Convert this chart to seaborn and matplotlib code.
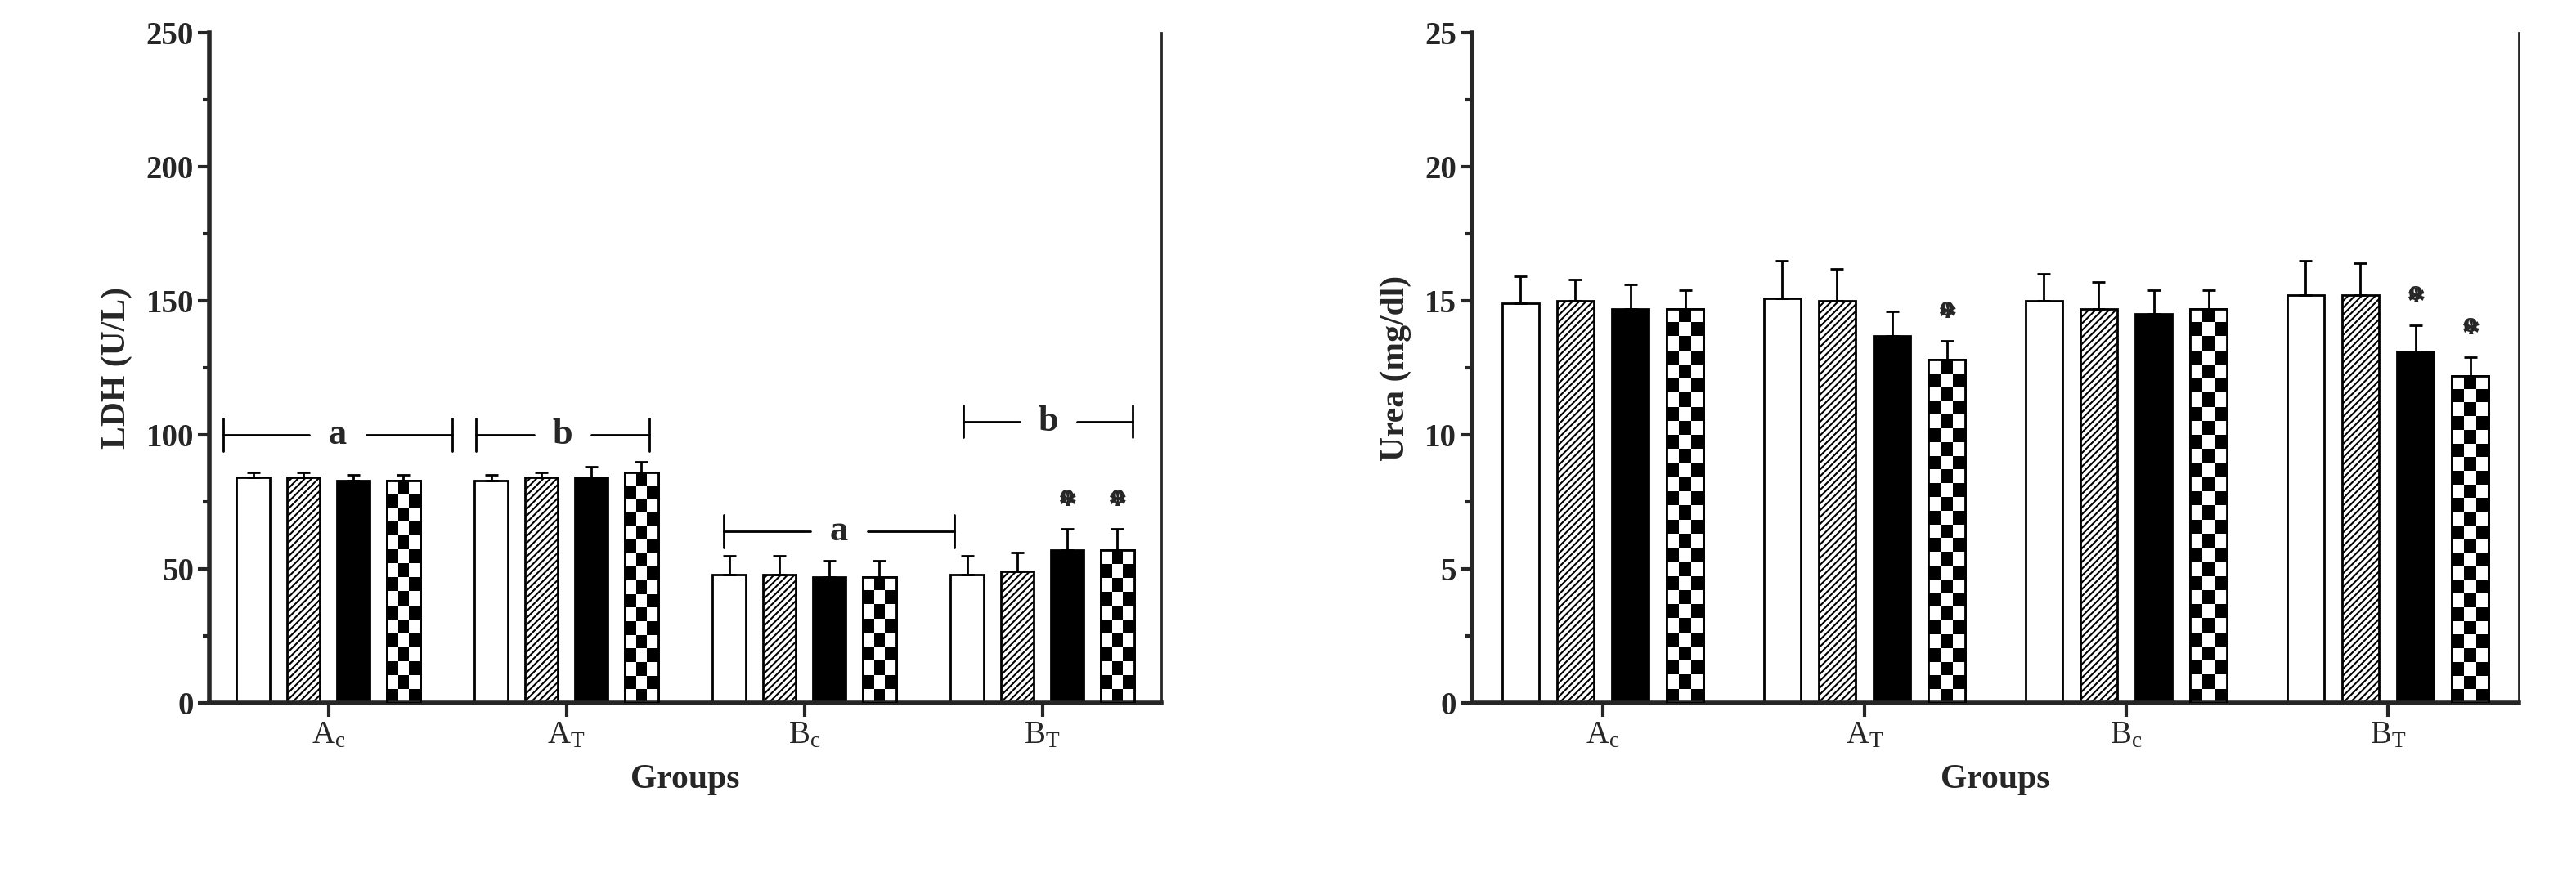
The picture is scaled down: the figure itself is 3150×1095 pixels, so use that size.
import numpy as np
import pandas as pd
import seaborn as sns
import matplotlib.pyplot as plt
from matplotlib.container import BarContainer

groups = ['Ac', 'AT', 'Bc', 'BT']
group_labels = [r'$\mathregular{A_c}$', r'$\mathregular{A_T}$', r'$\mathregular{B_c}$', r'$\mathregular{B_T}$']
series = ['s1', 's2', 's3', 's4']

ldh = [[84, 84, 83, 83], [83, 84, 84, 86], [48, 48, 47, 47], [48, 49, 57, 57]]
ldh_err = [[2, 2, 2, 2], [2, 2, 4, 4], [7, 7, 6, 6], [7, 7, 8, 8]]
urea = [[14.9, 15.0, 14.7, 14.7], [15.1, 15.0, 13.7, 12.8], [15.0, 14.7, 14.5, 14.7], [15.2, 15.2, 13.1, 12.2]]
urea_err = [[1.0, 0.8, 0.9, 0.7], [1.4, 1.2, 0.9, 0.7], [1.0, 1.0, 0.9, 0.7], [1.3, 1.2, 1.0, 0.7]]

sns.set_theme(style='white')
plt.rcParams['font.family'] = ['Liberation Serif', 'DejaVu Serif']
plt.rcParams['mathtext.fontset'] = 'custom'
plt.rcParams['mathtext.rm'] = 'Liberation Serif'
plt.rcParams['hatch.linewidth'] = 1.5

def long_df(vals):
  rows = []
  for i, g in enumerate(groups):
    for j, s in enumerate(series):
      rows.append({'group': g, 'series': s, 'value': vals[i][j]})
  return pd.DataFrame(rows)

checker = np.indices((60, 3)).sum(axis=0) % 2

def draw(ax, vals, errs, ymax, ystep, ylabel):
  df = long_df(vals)
  sns.barplot(data=df, x='group', y='value', hue='series', order=groups, hue_order=series,
              palette=['white'] * 4, errorbar=None, legend=False, width=0.84, ax=ax)
  bw = 0.14
  conts = [c for c in ax.containers if isinstance(c, BarContainer)]
  for j, cont in enumerate(conts):
    for i, bar in enumerate(cont.patches):
      cx = bar.get_x() + bar.get_width() / 2
      bar.set_x(cx - bw / 2)
      bar.set_width(bw)
      bar.set_edgecolor('black')
      bar.set_linewidth(2)
      if j == 1:
        bar.set_hatch('////')
      if j == 2:
        bar.set_facecolor('black')
      ax.errorbar(cx, vals[i][j], yerr=[[0], [errs[i][j]]], fmt='none', ecolor='black',
                  elinewidth=2, capsize=6, capthick=2, zorder=1)
      if j == 3:
        h = vals[i][j]
        nrows = max(1, int(round(h / ymax * 820 / 17)))
        im = ax.imshow(checker[:nrows], cmap='gray_r', interpolation='nearest', aspect='auto',
                       extent=[cx - bw / 2, cx + bw / 2, 0, h], zorder=2)
        im.set_clip_path(bar)
        ax.add_patch(plt.Rectangle((cx - bw / 2, 0), bw, h, fill=False, ec='black', lw=2, zorder=3))
  ax.set_xlim(-0.5, 3.5)
  ax.set_ylim(0, ymax)
  ax.set_yticks(np.arange(0, ymax + 0.01, ystep))
  ax.set_yticks(np.arange(0, ymax + 0.01, ystep / 2), minor=True)
  ax.set_xticks(range(4))
  ax.set_xticklabels(group_labels)
  ax.set_xlabel('Groups', fontsize=30, fontweight='bold', labelpad=12)
  ax.set_ylabel(ylabel, fontsize=30, fontweight='bold', labelpad=12)
  ax.tick_params(axis='y', which='major', labelsize=28, length=10, width=3, direction='out', left=True)
  ax.tick_params(axis='y', which='minor', length=6, width=3, left=True)
  ax.tick_params(axis='x', labelsize=28, length=12, width=3, direction='out', bottom=True)
  for lab in ax.get_yticklabels():
    lab.set_fontweight('bold')
  for side in ['left', 'bottom']:
    ax.spines[side].set_linewidth(4)
  ax.spines['right'].set_linewidth(2)
  ax.spines['top'].set_visible(False)
  ax.set_aspect('auto')

fig = plt.figure(figsize=(31.5, 10.95), dpi=100)
ax1 = fig.add_axes([256 / 3150, 235 / 1095, 1164 / 3150, 820 / 1095])
ax2 = fig.add_axes([1800 / 3150, 235 / 1095, 1280 / 3150, 820 / 1095])

draw(ax1, ldh, ldh_err, 250, 50, 'LDH (U/L)')
draw(ax2, urea, urea_err, 25, 5, 'Urea (mg/dl)')

def bracket(ax, x0, x1, y, letter):
  xm = (x0 + x1) / 2
  gap = 0.12
  ax.plot([x0, xm - gap], [y, y], color='black', lw=2)
  ax.plot([xm + gap, x1], [y, y], color='black', lw=2)
  ax.plot([x0, x0], [y - 6, y + 6], color='black', lw=2)
  ax.plot([x1, x1], [y - 6, y + 6], color='black', lw=2)
  ax.text(xm, y, letter, ha='center', va='center', fontsize=32, fontweight='bold')

bracket(ax1, -0.44, 0.52, 100, 'a')
bracket(ax1, 0.62, 1.35, 100, 'b')
bracket(ax1, 1.66, 2.63, 64, 'a')
bracket(ax1, 2.67, 3.38, 105, 'b')

def marks(ax, i, j, vals, errs, step):
  bar_x = i + (j - 1.5) * 0.21
  y = vals[i][j] + errs[i][j]
  ax.text(bar_x, y + step * 0.3, '*', ha='center', va='bottom', fontsize=34, fontweight='bold')
  ax.text(bar_x, y + step * 1.4, 'o', ha='center', va='bottom', fontsize=26, fontweight='bold')

marks(ax1, 3, 2, ldh, ldh_err, 5)
marks(ax1, 3, 3, ldh, ldh_err, 5)
marks(ax2, 1, 3, urea, urea_err, 0.5)
marks(ax2, 3, 2, urea, urea_err, 0.5)
marks(ax2, 3, 3, urea, urea_err, 0.5)

fig.savefig('out.png', dpi=100)
